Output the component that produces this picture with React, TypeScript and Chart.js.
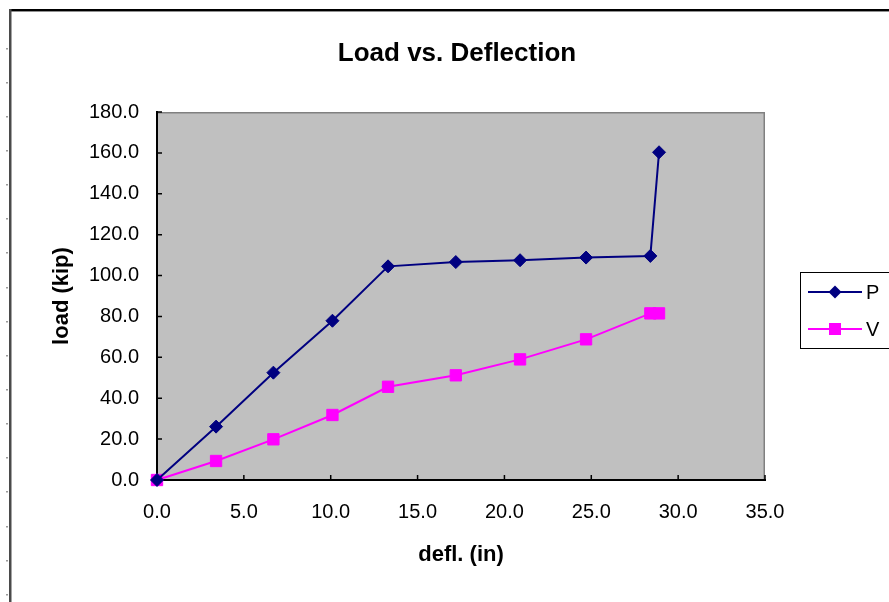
import React, { useEffect, useRef } from 'react';
import { Chart, registerables } from 'chart.js';

Chart.register(...registerables);

// Deflection readings (in) shared by both load series
const deflection = [0, 3.4, 6.7, 10.1, 13.3, 17.2, 20.9, 24.7, 28.4, 28.9];
// Load readings (kip)
const loadP = [0, 26.1, 52.5, 77.9, 104.5, 106.6, 107.5, 108.8, 109.6, 160.3];
const loadV = [0, 9.3, 19.9, 31.8, 45.6, 51.2, 59.0, 68.8, 81.5, 81.5];

const seriesNames = ['P', 'V'];
const seriesColors = ['#000080', '#FF00FF'];
const chartTitle = 'Load vs. Deflection';
const xTitle = 'defl. (in)';
const yTitle = 'load (kip)';
const xTicks = [0, 5, 10, 15, 20, 25, 30, 35];
const yTicks = [0, 20, 40, 60, 80, 100, 120, 140, 160, 180];

const FONT = 'Arial, "Liberation Sans", sans-serif';

const W = 889;
const H = 602;

function drawDiamond(ctx: CanvasRenderingContext2D, x: number, y: number, r: number, color: string) {
  ctx.fillStyle = color;
  ctx.beginPath();
  ctx.moveTo(x, y - r);
  ctx.lineTo(x + r, y);
  ctx.lineTo(x, y + r);
  ctx.lineTo(x - r, y);
  ctx.closePath();
  ctx.fill();
}

const decorPlugin = {
  id: 'decor',
  beforeDraw(chart: any) {
    const { ctx, chartArea: a, width, height } = chart;
    ctx.save();
    ctx.fillStyle = '#ffffff';
    ctx.fillRect(0, 0, width, height);

    // outer chart frame (top and left edges)
    ctx.fillStyle = '#000000';
    ctx.fillRect(9, 9, width - 9, 2);
    ctx.fillStyle = '#909090';
    ctx.fillRect(9, 11, width - 9, 1);
    ctx.fillStyle = '#4a4a4a';
    ctx.fillRect(9, 9, 2.5, height - 9);
    // small marks along the left frame
    ctx.fillStyle = '#9a9a9a';
    for (let y = 47.5; y < height; y += 34.15) {
      ctx.fillRect(6, Math.round(y), 2, 1.5);
    }

    // plot area background and its top/right border
    ctx.fillStyle = '#C0C0C0';
    ctx.fillRect(a.left, a.top, a.right - a.left, a.bottom - a.top);
    ctx.strokeStyle = '#808080';
    ctx.lineWidth = 1.5;
    ctx.beginPath();
    ctx.moveTo(a.left, a.top + 0.75);
    ctx.lineTo(a.right - 0.75, a.top + 0.75);
    ctx.lineTo(a.right - 0.75, a.bottom);
    ctx.stroke();
    ctx.restore();
  },
  beforeDatasetsDraw(chart: any) {
    const { ctx, chartArea: a, scales } = chart;
    ctx.save();
    ctx.strokeStyle = '#000000';
    ctx.lineWidth = 1.5;
    ctx.beginPath();
    for (const v of yTicks) {
      const py = scales.y.getPixelForValue(v);
      ctx.moveTo(a.left, py);
      ctx.lineTo(a.left + 5, py);
    }
    for (const v of xTicks) {
      const px = scales.x.getPixelForValue(v);
      ctx.moveTo(px, a.bottom);
      ctx.lineTo(px, a.bottom - 5);
    }
    ctx.stroke();
    ctx.restore();
  },
  afterDraw(chart: any) {
    const { ctx } = chart;
    ctx.save();
    // chart title
    ctx.fillStyle = '#000000';
    ctx.font = `bold 26px ${FONT}`;
    ctx.textAlign = 'center';
    ctx.textBaseline = 'middle';
    ctx.fillText(chartTitle, 457, 54);

    // legend box
    const bx = 800.5;
    const by = 272.5;
    ctx.strokeStyle = '#000000';
    ctx.lineWidth = 1;
    ctx.strokeRect(bx, by, 110, 76);
    const rows = [292, 329];
    ctx.font = `20px ${FONT}`;
    ctx.textAlign = 'left';
    seriesNames.forEach((name, i) => {
      const y = rows[i];
      const c = seriesColors[i];
      ctx.strokeStyle = c;
      ctx.lineWidth = 2;
      ctx.beginPath();
      ctx.moveTo(808, y);
      ctx.lineTo(862, y);
      ctx.stroke();
      if (i === 0) {
        drawDiamond(ctx, 835, y, 6.5, c);
      } else {
        ctx.fillStyle = c;
        ctx.fillRect(829, y - 6, 12, 12);
      }
      ctx.fillStyle = '#000000';
      ctx.fillText(name, 866, y + 1);
    });
    ctx.restore();
  },
};

export default function App() {
  const canvasRef = useRef<HTMLCanvasElement | null>(null);

  useEffect(() => {
    const canvas = canvasRef.current;
    if (!canvas) return;
    const chart = new Chart(canvas, {
      type: 'scatter',
      data: {
        datasets: [
          {
            label: seriesNames[0],
            data: deflection.map((x, i) => ({ x, y: loadP[i] })),
            showLine: true,
            borderColor: seriesColors[0],
            backgroundColor: seriesColors[0],
            borderWidth: 2,
            pointStyle: 'rectRot',
            pointRadius: 6.5,
            pointBorderWidth: 1,
            pointBorderColor: seriesColors[0],
            pointBackgroundColor: seriesColors[0],
            tension: 0,
            clip: false,
          },
          {
            label: seriesNames[1],
            data: deflection.map((x, i) => ({ x, y: loadV[i] })),
            showLine: true,
            borderColor: seriesColors[1],
            backgroundColor: seriesColors[1],
            borderWidth: 2,
            pointStyle: 'rect',
            pointRadius: 8,
            pointBorderWidth: 1,
            pointBorderColor: seriesColors[1],
            pointBackgroundColor: seriesColors[1],
            tension: 0,
            clip: false,
          },
        ],
      },
      options: {
        responsive: false,
        animation: false,
        layout: { padding: { left: 0, right: W - 765, top: 112, bottom: 0 } },
        plugins: {
          legend: { display: false },
          title: { display: false },
          tooltip: { enabled: false },
        },
        scales: {
          x: {
            type: 'linear',
            min: 0,
            max: 35,
            afterBuildTicks: (s: any) => {
              s.ticks = xTicks.map((v) => ({ value: v }));
            },
            afterFit: (s: any) => {
              s.height = H - 480;
            },
            grid: { display: true, drawOnChartArea: false, drawTicks: false },
            border: { display: true, color: '#000000', width: 2 },
            ticks: {
              autoSkip: false,
              maxRotation: 0,
              padding: 20,
              color: '#000000',
              font: { family: FONT, size: 20 },
              callback: (v: any) => Number(v).toFixed(1),
            },
            title: {
              display: true,
              text: xTitle,
              color: '#000000',
              font: { family: FONT, size: 22, weight: 'bold' },
              padding: { top: 0, bottom: 34 },
            },
          },
          y: {
            type: 'linear',
            min: 0,
            max: 180,
            afterBuildTicks: (s: any) => {
              s.ticks = yTicks.map((v) => ({ value: v }));
            },
            afterFit: (s: any) => {
              s.width = 157;
            },
            grid: { display: true, drawOnChartArea: false, drawTicks: false },
            border: { display: true, color: '#000000', width: 2 },
            ticks: {
              autoSkip: false,
              padding: 18,
              color: '#000000',
              font: { family: FONT, size: 20 },
              callback: (v: any) => Number(v).toFixed(1),
            },
            title: {
              display: true,
              text: yTitle,
              color: '#000000',
              font: { family: FONT, size: 22, weight: 'bold' },
              padding: { top: 49, bottom: 0 },
            },
          },
        },
      },
      plugins: [decorPlugin],
    });
    return () => chart.destroy();
  }, []);

  return (
    <div style={{ position: 'fixed', left: 0, top: 0, width: W, height: H, background: '#ffffff' }}>
      <canvas ref={canvasRef} width={W} height={H} style={{ display: 'block', width: W, height: H }} />
    </div>
  );
}
